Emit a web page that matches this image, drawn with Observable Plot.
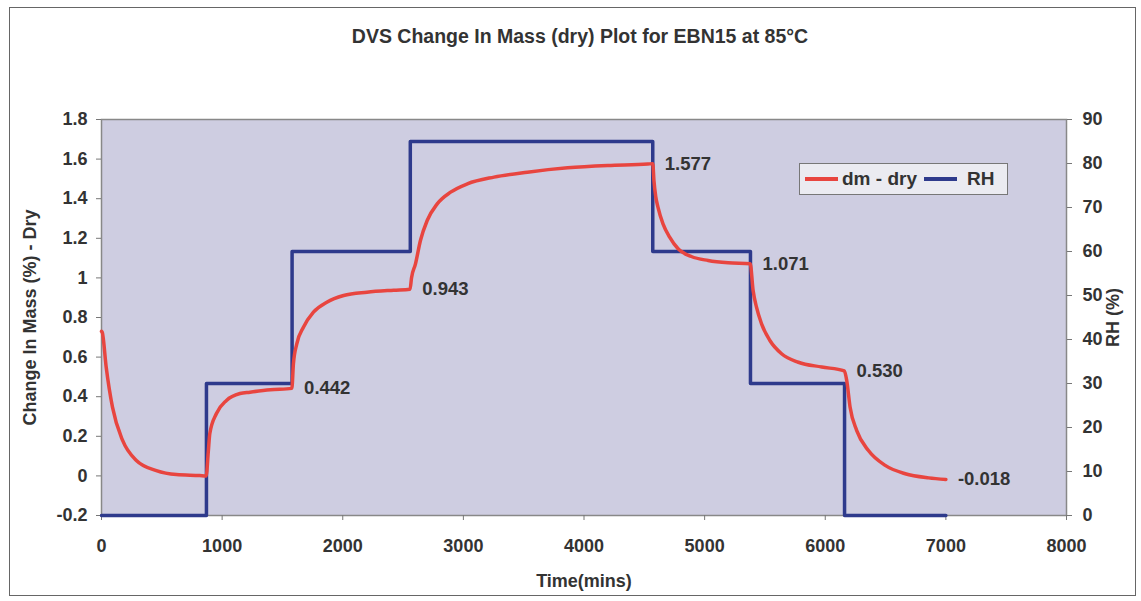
<!DOCTYPE html>
<html>
<head>
<meta charset="utf-8">
<script src="https://cdn.jsdelivr.net/npm/d3@7"></script>
<script src="https://cdn.jsdelivr.net/npm/@observablehq/plot@0.6"></script>
<style>
  html, body { margin: 0; padding: 0; background: #fff; }
  #wrap { position: relative; width: 1141px; height: 601px; font-family: "Liberation Sans", Arial, sans-serif; color: #333; }
  #border { position: absolute; left: 9px; top: 7px; width: 1127px; height: 589px; border: 1.5px solid #666; box-sizing: border-box; }
  #title { position: absolute; left: 0; width: 1160px; top: 25px; text-align: center; font-weight: bold; font-size: 19.5px; color: #333; }
  #legend { position: absolute; left: 799px; top: 163px; width: 209px; height: 32px; box-sizing: border-box; border: 1px solid #777; background: #ebebf1; display: flex; align-items: center; font-weight: bold; font-size: 19px; color: #333; white-space: nowrap; }
  .sw { display: inline-block; width: 33px; height: 4px; margin: 0 4px 0 5px; }
  #chart { position: absolute; left: 0; top: 0; }
</style>
</head>
<body>
<div id="wrap">
  <div id="border"></div>
  <div id="chart"></div>
  <div id="title">DVS Change In Mass (dry) Plot for EBN15 at 85°C</div>
  <div id="legend"><span class="sw" style="background:#e8453f"></span><span>dm - dry</span><span class="sw" style="background:#2e3a8c;margin-left:7px"></span><span style="margin-left:6px">RH</span></div>
</div>
<script>
// ---- data ----
const massTime = [0, 6, 39, 91, 175, 289, 455, 621, 814, 868,
  885, 898, 953, 1036, 1148, 1231, 1400, 1578,
  1591, 1619, 1674, 1757, 1868, 2007, 2201, 2422, 2558,
  2570, 2603, 2644, 2700, 2783, 2894, 3033, 3254, 3531, 3864, 4197, 4529, 4570,
  4580, 4595, 4613, 4655, 4710, 4780, 4890, 5029, 5195, 5378,
  5402, 5430, 5472, 5541, 5638, 5777, 5971, 6158,
  6178, 6206, 6261, 6358, 6497, 6663, 6857, 7000];
const massValue = [0.73, 0.726, 0.549, 0.347, 0.179, 0.078, 0.027, 0.007, 0.002, 0.0,
  0.12, 0.214, 0.315, 0.381, 0.416, 0.423, 0.435, 0.442,
  0.566, 0.667, 0.751, 0.827, 0.877, 0.911, 0.928, 0.938, 0.943,
  1.0, 1.071, 1.189, 1.29, 1.374, 1.433, 1.475, 1.509, 1.534, 1.556, 1.568, 1.575, 1.577,
  1.49, 1.41, 1.357, 1.273, 1.206, 1.147, 1.108, 1.088, 1.076, 1.071,
  0.936, 0.852, 0.768, 0.684, 0.617, 0.574, 0.550, 0.530,
  0.482, 0.347, 0.229, 0.128, 0.053, 0.011, -0.010, -0.018];
const rhTime = [0, 870, 1580, 2560, 4570, 5380, 6160, 7000];
const rhValue = [0, 30, 60, 85, 60, 30, 0, 0];
const labelTime = [1580, 2560, 4570, 5380, 6160, 7000];
const labelValue = [0.442, 0.943, 1.577, 1.071, 0.530, -0.018];
const xTicks = [0, 1000, 2000, 3000, 4000, 5000, 6000, 7000, 8000];
const yTicks = [-0.2, 0, 0.2, 0.4, 0.6, 0.8, 1, 1.2, 1.4, 1.6, 1.8];
const rhTicks = [0, 10, 20, 30, 40, 50, 60, 70, 80, 90];

// RH (0..90) shares the left scale (-0.2..1.8)
const rhToY = r => r / 45 - 0.2;
const yToRh = y => Math.round((y + 0.2) * 45);

const mass = massTime.map((t, i) => ({t, v: massValue[i]}));
const rh = rhTime.map((t, i) => ({t, r: rhValue[i]}));
const labels = labelTime.map((t, i) => ({t, v: labelValue[i]}));

const chart = Plot.plot({
  width: 1141, height: 601,
  marginLeft: 101, marginRight: 75, marginTop: 119, marginBottom: 86,
  style: {fontFamily: '"Liberation Sans", Arial, sans-serif', fontWeight: "bold", fontSize: "18px", color: "#333", background: "transparent", overflow: "visible"},
  x: {domain: [0, 8000]},
  y: {domain: [-0.2, 1.8]},
  marks: [
    Plot.frame({fill: "#cecde1", stroke: "#888", strokeWidth: 1.5}),
    Plot.axisX({ticks: xTicks, tickSize: 5, tickPadding: 19, stroke: "#777", tickFormat: d => String(d), label: "Time(mins)", labelAnchor: "center", labelArrow: "none", labelOffset: 71, fontSize: 18}),
    Plot.axisY({ticks: yTicks, tickSize: 5, tickPadding: 9, stroke: "#777", tickFormat: d => String(+d.toFixed(1)), label: "Change In Mass (%) - Dry", labelAnchor: "center", labelArrow: "none", labelOffset: 78, fontSize: 18}),
    Plot.axisY({anchor: "right", ticks: rhTicks.map(rhToY), tickSize: 5, tickPadding: 11, stroke: "#777", tickFormat: yToRh, label: "RH (%)", labelAnchor: "center", labelArrow: "none", labelOffset: 52, fontSize: 18}),
    Plot.line(rh, {x: "t", y: d => rhToY(d.r), curve: "step-after", stroke: "#2e3a8c", strokeWidth: 3.5}),
    Plot.line(mass, {x: "t", y: "v", curve: "monotone-x", stroke: "#e8453f", strokeWidth: 3.5}),
    Plot.text(labels, {x: "t", y: "v", text: d => d.v.toFixed(3), dx: 12, textAnchor: "start", fill: "#333", fontSize: 18.5, fontWeight: "bold"})
  ]
});
document.getElementById("chart").appendChild(chart);
</script>
</body>
</html>
